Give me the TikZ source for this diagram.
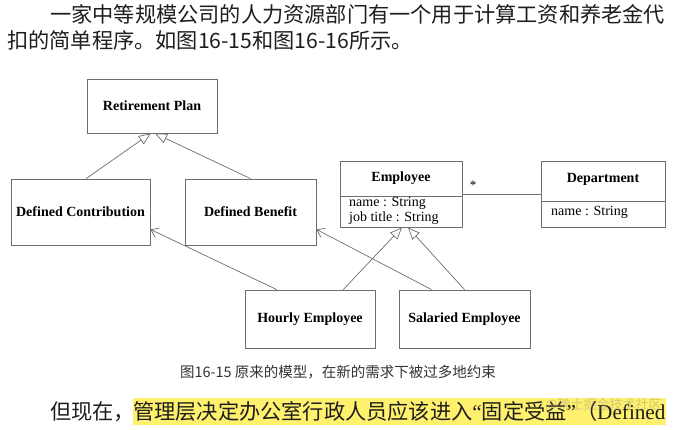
\documentclass[tikz,border=0pt]{standalone}
\usepackage{fontspec}
\setmainfont{Liberation Serif}
\newfontfamily\cjk{Noto Sans CJK SC}
\usetikzlibrary{arrows.meta,calc}
\definecolor{linec}{RGB}{110,110,110}
\definecolor{txtc}{RGB}{30,30,30}
\definecolor{hly}{RGB}{255,240,110}
\begin{document}
\begin{tikzpicture}[x=1pt,y=-1pt,
  box/.style={draw=linec, line width=0.8pt, rectangle, inner sep=0pt,
    font=\bfseries\fontsize{14}{16}\selectfont, text=black},
  ctitle/.style={font=\bfseries\fontsize{14}{16}\selectfont, inner sep=0pt},
  attr/.style={font=\fontsize{14}{16}\selectfont, inner sep=0pt, anchor=west},
  gen/.style={draw=linec, line width=0.7pt, -{Triangle[open, length=12pt, width=10pt]}},
  assoc/.style={draw=linec, line width=0.7pt, -{Straight Barb[length=7pt, width=10pt]}},
  body/.style={font=\cjk\fontsize{21.2}{24}\selectfont, text=txtc, inner sep=0pt, anchor=west}]
\useasboundingbox (0,0) rectangle (684,429);
\fill[white] (0,0) rectangle (684,429);

% top paragraph
\node[body] (p1) at (50,14) {一家中等规模公司的人力资源部门有一个用于计算工资和养老金代};
\node[body] (p2) at (7,40.5) {扣的简单程序。如图16-15和图16-16所示。};

% class boxes
\node[box, minimum width=130, minimum height=54] (rp) at (152,106) {Retirement Plan};
\node[box, minimum width=139, minimum height=66] (dc) at (80.5,212) {Defined Contribution};
\node[box, minimum width=131, minimum height=66] (db) at (250.5,212) {Defined Benefit};
\node[box, minimum width=122, minimum height=66] (empl) at (401,194) {};
\node[box, minimum width=124, minimum height=66] (dept) at (603,194) {};
\node[box, minimum width=130, minimum height=58] (hourly) at (310,319) {Hourly Employee};
\node[box, minimum width=131, minimum height=58] (salaried) at (464.5,319) {Salaried Employee};

% Employee compartments
\node[ctitle] (emptitle) at (401,178) {Employee};
\draw[linec, line width=0.8pt] ($(empl.north west)!0.53!(empl.south west)$) -- ($(empl.north east)!0.53!(empl.south east)$);
\node[attr] (empa1) at (349,203.5) {name : String};
\node[attr] (empa2) at (349,218) {job title : String};

% Department compartments
\node[ctitle] (depttitle) at (603,179) {Department};
\draw[linec, line width=0.8pt] ($(dept.north west)!0.606!(dept.south west)$) -- ($(dept.north east)!0.606!(dept.south east)$);
\node[attr] (depta1) at (551,212) {name : String};

% connectors
\draw[gen] ($(dc.north west)!0.54!(dc.north east)$) -- ($(rp.south west)!0.49!(rp.south east)$);
\draw[gen] (db.north) -- ($(rp.south west)!0.523!(rp.south east)$);
\draw[assoc] ($(hourly.north west)!0.246!(hourly.north east)$) -- ($(dc.north east)!0.76!(dc.south east)$);
\draw[assoc] ($(salaried.north west)!0.25!(salaried.north east)$) -- ($(db.north east)!0.76!(db.south east)$);
\draw[gen] ($(hourly.north west)!0.754!(hourly.north east)$) -- ($(empl.south west)!0.508!(empl.south east)$);
\draw[gen] (salaried.north) -- ($(empl.south west)!0.557!(empl.south east)$);
\draw[linec, line width=0.7pt] (empl.east) -- (dept.west);
\node[font=\fontsize{13}{14}\selectfont, inner sep=0pt] (star) at (473,185) {*};

% caption
\node[font=\cjk\fontsize{14.5}{16}\selectfont, text=black!80, inner sep=0pt] (cap) at (338,372) {图16-15 原来的模型，在新的需求下被过多地约束};

% bottom line
\node[body] (p3) at (50,412) {但现在，};
\node[body, fill=hly, inner ysep=0pt, minimum height=27, anchor=west] (hl) at (133,411.5) {管理层决定办公室行政人员应该进入{\rmfamily“}固定受益{\rmfamily”}（{\rmfamily Defined}};
\node[font=\cjk\fontsize{13}{14}\selectfont, text=gray, opacity=0.35, inner sep=0pt, anchor=west] (wm) at (545,405) {@稀土掘金技术社区};
\end{tikzpicture}
\end{document}
